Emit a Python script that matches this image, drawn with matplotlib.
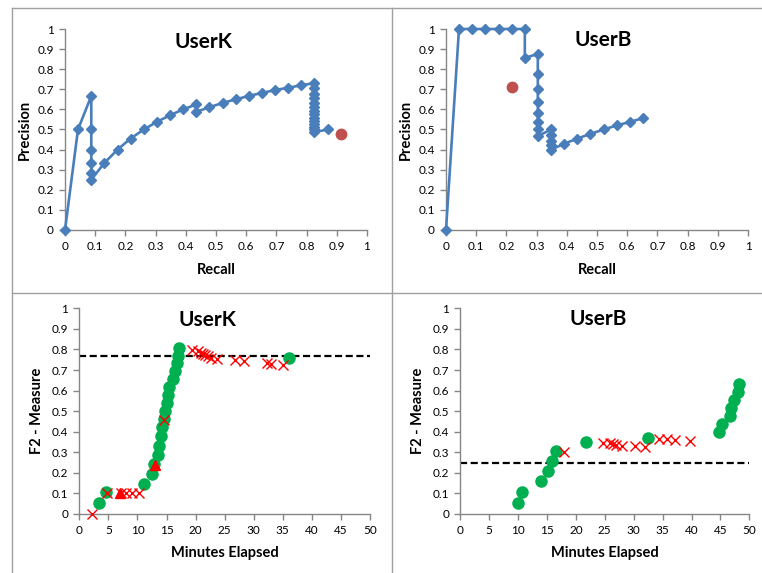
import matplotlib
matplotlib.use("Agg")
import matplotlib.pyplot as plt
from matplotlib.lines import Line2D
from matplotlib.ticker import MultipleLocator, FuncFormatter

plt.rcParams['font.family'] = ['Lato', 'DejaVu Sans']

# ---- precision / recall traces ----
userk_recall = [0.0, 0.043, 0.087, 0.087, 0.087, 0.087, 0.087, 0.087, 0.130, 0.174,
                0.217, 0.261, 0.304, 0.348, 0.391, 0.435, 0.435, 0.478, 0.522, 0.565,
                0.609, 0.652, 0.696, 0.739, 0.783, 0.826, 0.826, 0.826, 0.826, 0.826,
                0.826, 0.826, 0.826, 0.826, 0.826, 0.826, 0.826, 0.826, 0.826, 0.870]
userk_precision = [0.0, 0.5, 0.667, 0.5, 0.4, 0.333, 0.286, 0.25, 0.333, 0.4,
                   0.455, 0.5, 0.538, 0.571, 0.6, 0.625, 0.588, 0.611, 0.632, 0.65,
                   0.667, 0.682, 0.696, 0.708, 0.72, 0.731, 0.704, 0.679, 0.655, 0.633,
                   0.613, 0.594, 0.576, 0.559, 0.543, 0.528, 0.514, 0.5, 0.487, 0.5]
userk_ref_point = (0.915, 0.476)

userb_recall = [0.0, 0.043, 0.087, 0.130, 0.174, 0.217, 0.261, 0.261, 0.304, 0.304,
                0.304, 0.304, 0.304, 0.304, 0.304, 0.304, 0.348, 0.348, 0.348, 0.348,
                0.348, 0.391, 0.435, 0.478, 0.522, 0.565, 0.609, 0.652]
userb_precision = [0.0, 1.0, 1.0, 1.0, 1.0, 1.0, 1.0, 0.857, 0.875, 0.778,
                   0.7, 0.636, 0.583, 0.538, 0.5, 0.467, 0.5, 0.471, 0.444, 0.421,
                   0.4, 0.429, 0.455, 0.478, 0.5, 0.52, 0.538, 0.556]
userb_ref_point = (0.22, 0.711)

# ---- F2 over time ----
userk_hit_min = [3.35, 4.65, 11.1, 12.55, 12.8, 13.5, 13.7, 14.0, 14.25, 14.5,
                 14.7, 15.0, 15.2, 15.5, 16.1, 16.45, 16.75, 17.0, 17.2, 36.0]
userk_hit_f2 = [0.053, 0.105, 0.148, 0.196, 0.243, 0.288, 0.333, 0.377, 0.421, 0.463,
                0.5, 0.541, 0.580, 0.619, 0.658, 0.696, 0.733, 0.769, 0.805, 0.758]
userk_miss_min = [2.1, 4.8, 7.2, 8.1, 9.1, 10.3, 14.5, 19.4, 20.4, 20.9,
                  21.3, 21.7, 22.1, 22.6, 23.6, 26.8, 28.4, 32.3, 32.9, 35.1]
userk_miss_f2 = [0.0, 0.104, 0.103, 0.102, 0.101, 0.100, 0.459, 0.798, 0.792, 0.785,
                 0.779, 0.772, 0.766, 0.760, 0.754, 0.748, 0.742, 0.736, 0.731, 0.725]
userk_flag_min = [6.95, 13.1]
userk_flag_f2 = [0.102, 0.24]
userk_baseline = 0.77

userb_hit_min = [9.9, 10.7, 13.95, 15.15, 15.85, 16.5, 21.8, 32.4, 44.8, 45.2,
                 46.6, 46.9, 47.4, 48.1, 48.3]
userb_hit_f2 = [0.054, 0.106, 0.158, 0.208, 0.258, 0.306, 0.350, 0.370, 0.398, 0.439,
                0.478, 0.517, 0.556, 0.593, 0.631]
userb_miss_min = [17.9, 24.7, 25.9, 26.4, 27.0, 28.0, 30.2, 32.0, 34.4, 35.8, 37.1, 39.7]
userb_miss_f2 = [0.303, 0.346, 0.343, 0.340, 0.336, 0.333, 0.330, 0.327,
                 0.367, 0.364, 0.360, 0.357]
userb_baseline = 0.25

BLUE = '#4a7ebb'
BROWN_RED = '#c0504d'
GREEN = '#00b050'
RED = '#ff0000'
AXIS_GREY = '#868686'
FRAME_GREY = '#a0a0a0'

fig = plt.figure(figsize=(7.62, 5.73), dpi=100)
W, H = 762.0, 573.0


def px_axes(x0, x1, ytop, ybot):
    return fig.add_axes([x0 / W, 1 - ybot / H, (x1 - x0) / W, (ybot - ytop) / H])


def fmt(v, _):
    return '%g' % round(v, 2)


def style(ax, xmax, xstep, xlabel, ylabel, xlab_off, ylab_off):
    for s in ('top', 'right'):
        ax.spines[s].set_visible(False)
    for s in ('left', 'bottom'):
        ax.spines[s].set_color(AXIS_GREY)
        ax.spines[s].set_linewidth(1.0)
    ax.set_xlim(0, xmax)
    ax.set_ylim(0, 1)
    ax.xaxis.set_major_locator(MultipleLocator(xstep))
    ax.yaxis.set_major_locator(MultipleLocator(0.1))
    ax.xaxis.set_major_formatter(FuncFormatter(fmt))
    ax.yaxis.set_major_formatter(FuncFormatter(fmt))
    ax.tick_params(direction='out', length=4, width=1, color=AXIS_GREY,
                   labelsize=8.5, labelcolor='black', pad=4)
    ax.text(0.5, xlab_off, xlabel, transform=ax.transAxes, ha='center', va='center',
            fontsize=10.5, fontweight='bold')
    ax.text(ylab_off, 0.5, ylabel, transform=ax.transAxes, ha='center', va='center',
            rotation=90, fontsize=10.5, fontweight='bold')
    for lab in ax.get_xticklabels() + ax.get_yticklabels():
        lab.set_clip_on(False)


def pr_panel(ax, rec, prec, ref, title, tx, ty):
    ax.plot(rec, prec, color=BLUE, lw=1.9, marker='D', ms=5.5,
            mfc=BLUE, mec=BLUE, clip_on=False, zorder=3)
    ax.plot([ref[0]], [ref[1]], 'o', color=BROWN_RED, ms=7.5, clip_on=False, zorder=4)
    style(ax, 1.0, 0.1, 'Recall', 'Precision', -0.20, -0.132)
    ax.text(tx, ty, title, transform=ax.transAxes, ha='center', va='center',
            fontsize=15, fontweight='bold')


def f2_panel(ax, hit_t, hit_v, miss_t, miss_v, base, title, tx, ty,
             flag_t=None, flag_v=None):
    ax.axhline(base, color='black', lw=1.6, ls=(0, (3.2, 1.6)), zorder=2)
    ax.plot(hit_t, hit_v, 'o', color=GREEN, ms=8, mec=GREEN, clip_on=False, zorder=3)
    ax.plot(miss_t, miss_v, 'x', color=RED, ms=7, mew=1.0, clip_on=False, zorder=4)
    if flag_t is not None:
        ax.plot(flag_t, flag_v, '^', color=RED, ms=7.5, clip_on=False, zorder=5)
    style(ax, 50, 5, 'Minutes Elapsed', 'F2 - Measure', -0.19, -0.145)
    ax.text(tx, ty, title, transform=ax.transAxes, ha='center', va='center',
            fontsize=15, fontweight='bold')


ax1 = px_axes(65, 367, 29, 230)
pr_panel(ax1, userk_recall, userk_precision, userk_ref_point, 'UserK', 0.457, 0.935)

ax2 = px_axes(446, 748, 29, 230)
pr_panel(ax2, userb_recall, userb_precision, userb_ref_point, 'UserB', 0.519, 0.945)

ax3 = px_axes(79.3, 370, 308.3, 514)
f2_panel(ax3, userk_hit_min, userk_hit_f2, userk_miss_min, userk_miss_f2,
         userk_baseline, 'UserK', 0.442, 0.943, userk_flag_min, userk_flag_f2)

ax4 = px_axes(460.3, 749.3, 308.3, 514)
f2_panel(ax4, userb_hit_min, userb_hit_f2, userb_miss_min, userb_miss_f2,
         userb_baseline, 'UserB', 0.478, 0.947)

# chart frames
frame_lines = [
    ((12, W), (8, 8)),
    ((12, 12), (8, H)),
    ((392, 392), (8, H)),
    ((12, W), (293, 293)),
]
for xs, ys in frame_lines:
    fig.add_artist(Line2D([x / W for x in xs], [1 - y / H for y in ys],
                          transform=fig.transFigure, color=FRAME_GREY, lw=1.0))

fig.savefig('out.png', dpi=100)
